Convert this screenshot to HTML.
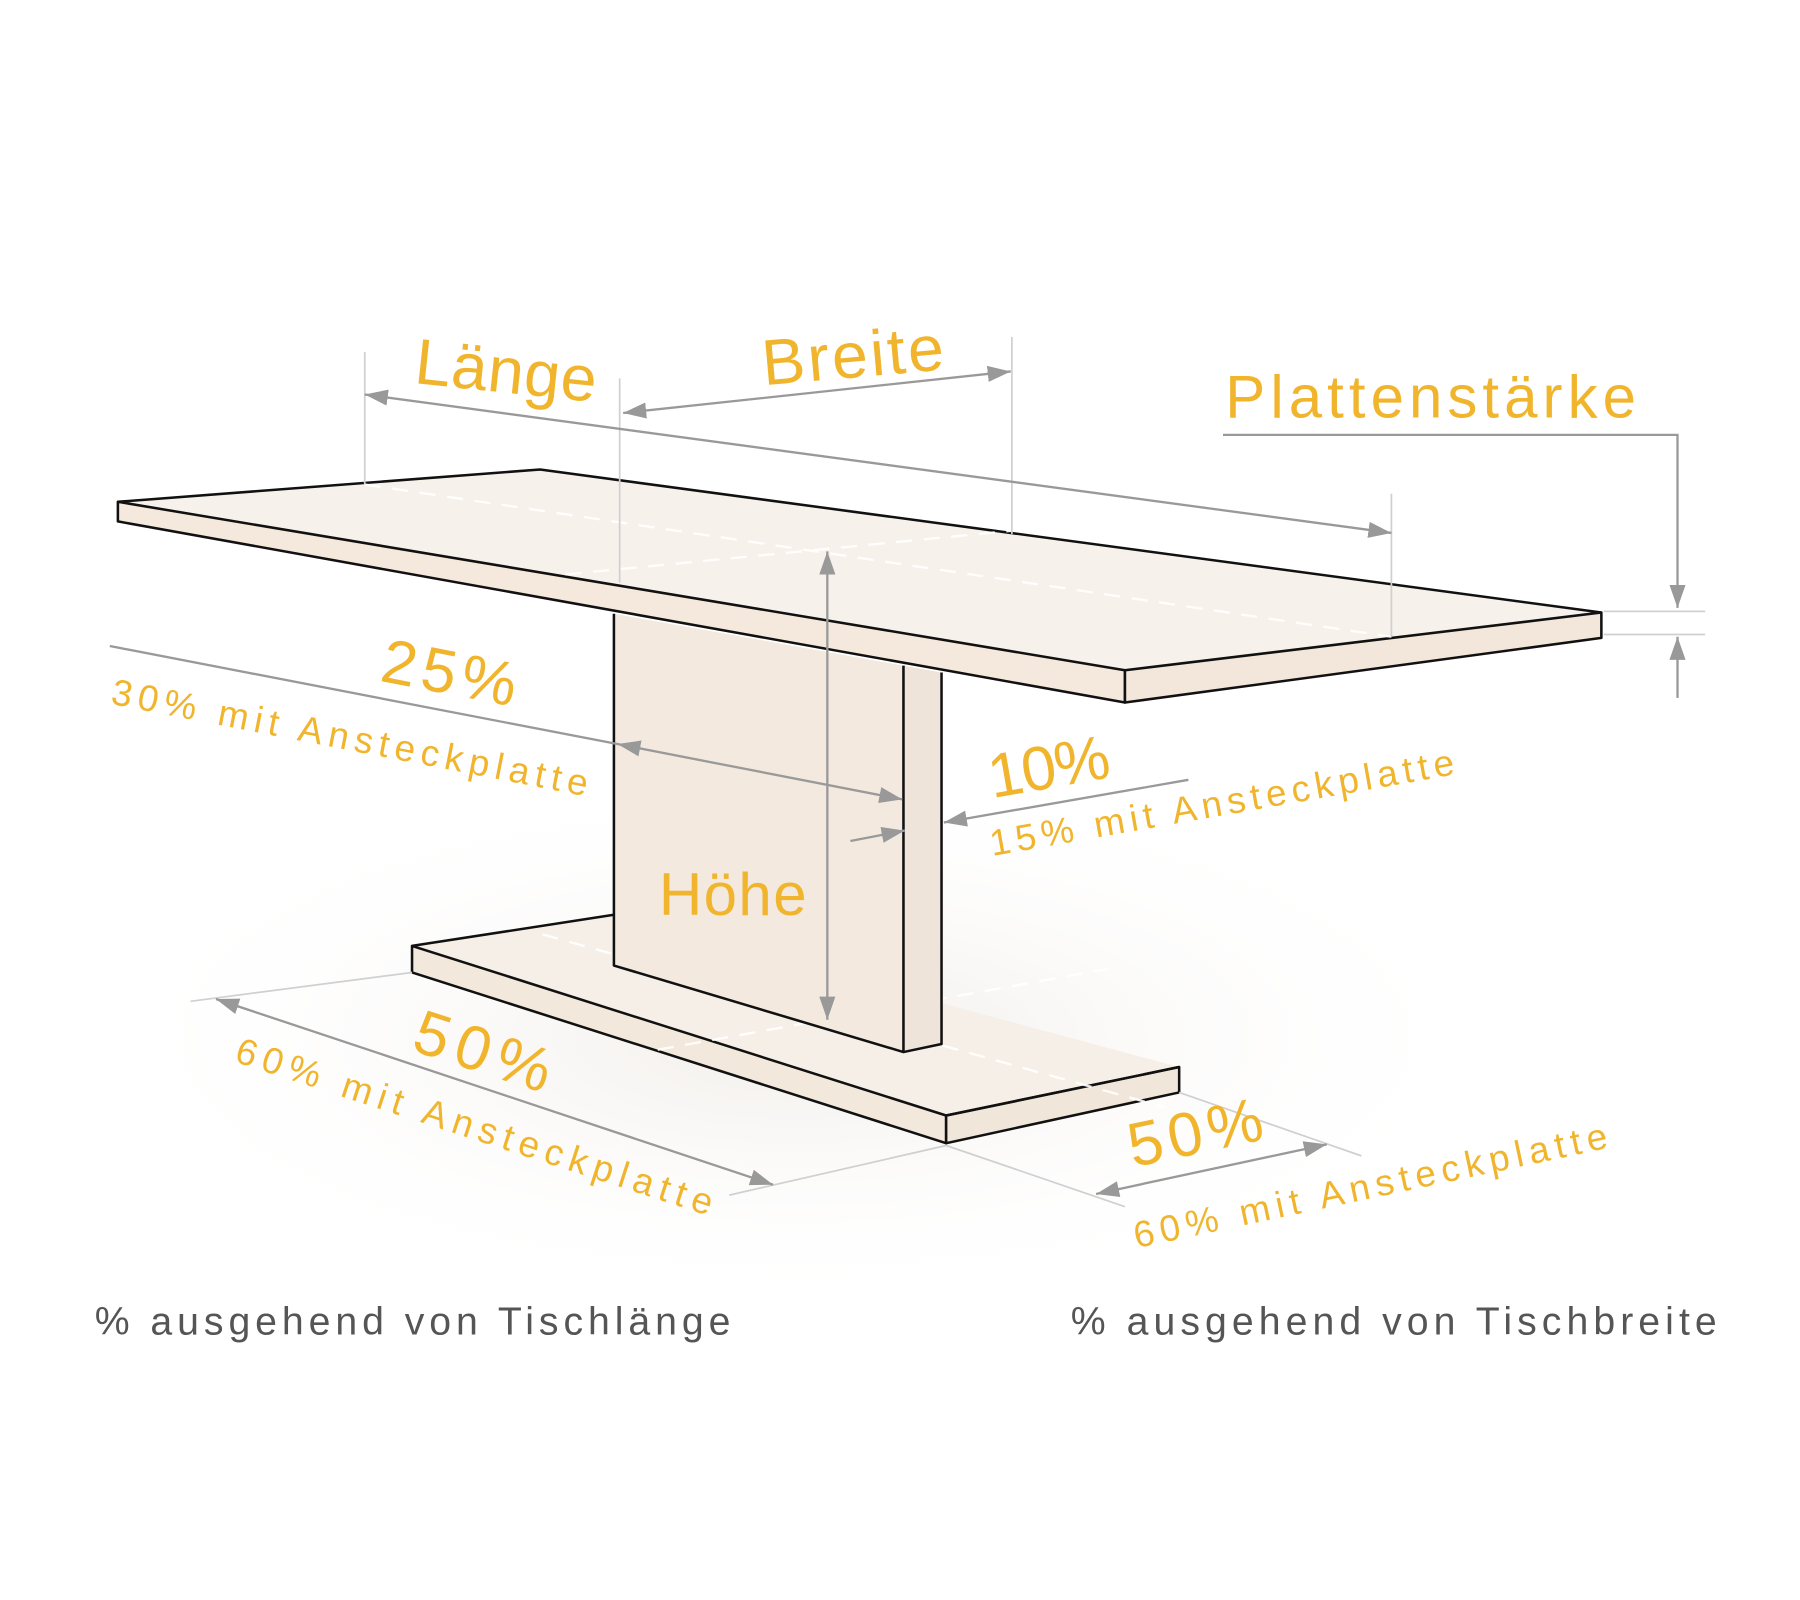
<!DOCTYPE html>
<html><head><meta charset="utf-8"><style>
html,body{margin:0;padding:0;background:#fff;width:1800px;height:1600px;overflow:hidden}
svg{display:block}
.o{fill:#f0b52d;font-family:"Liberation Sans",sans-serif}
.g{fill:#555;font-family:"Liberation Sans",sans-serif}
.dl{stroke:#999;stroke-width:2;fill:none}
.ex{stroke:#d0d0d0;stroke-width:1.5;fill:none}
.ed{stroke:#111;stroke-width:2.2;stroke-linejoin:round}
.da{stroke:#fff;stroke-width:2;stroke-dasharray:14 10;fill:none;opacity:.9}
</style></head><body>
<svg width="1800" height="1600" viewBox="0 0 1560 1387" xmlns="http://www.w3.org/2000/svg">
<defs>
<radialGradient id="sh" cx="0.5" cy="0.5" r="0.5"><stop offset="0" stop-color="#ece6e0" stop-opacity=".7"/><stop offset="1" stop-color="#fff" stop-opacity="0"/></radialGradient>
<marker id="m" viewBox="0 0 20 14" refX="20" refY="7" markerWidth="20" markerHeight="14" orient="auto-start-reverse" markerUnits="userSpaceOnUse"><path d="M0,0L20,7L0,14z" fill="#999"/></marker>
</defs>
<ellipse cx="690" cy="900" rx="620" ry="230" fill="url(#sh)"/>
<!-- base -->
<polygon points="357,820 532,793 1022,925 820,967" fill="#f6efe8"/>
<polygon class="ed" points="357,820 820,967 820,991 357,843" fill="#f3e8dc"/>
<polygon class="ed" points="820,967 1022,925 1022,947 820,991" fill="#f1e6da"/>
<path class="ed" d="M357,820L532,793M820,967L1022,925" fill="none"/>
<path class="da" d="M470,810L1010,960M570,910L960,840"/>
<!-- pillar -->
<polygon points="532,532 783,577 783,912 532,837" fill="#f3e9df"/>
<polygon points="783,577 816,583 816,905 783,912" fill="#eee4da"/>
<path class="ed" fill="none" d="M532,532L532,837L783,912L816,905L816,583M783,577L783,912"/>
<!-- top -->
<polygon points="102,435 468,407 1388,531 975,581" fill="#f7f1eb"/>
<polygon class="ed" points="102,435 975,581 975,609 102,452" fill="#f4e9dc"/>
<polygon class="ed" points="975,581 1388,531 1388,553 975,609" fill="#f2e7da"/>
<path class="ed" fill="none" d="M102,435L468,407L1388,531"/>
<path class="da" d="M316,420L1206,552M490,498L878,460"/>
<!-- extension lines -->
<path class="ex" d="M316,305V420M537,328V505M877,292V463M1206,428V552M1390,530H1478M1390,550H1478"/>
<path class="ex" d="M165,868L357,843M632,1036L820,993M820,993L975,1046M1022,947L1180,1002"/>
<!-- dimension lines -->
<path class="dl" d="M316,342L1206,462" marker-start="url(#m)" marker-end="url(#m)"/>
<path class="dl" d="M540,358L876,322" marker-start="url(#m)" marker-end="url(#m)"/>
<path class="dl" d="M1060,377H1454V527" marker-end="url(#m)"/>
<path class="dl" d="M1454,605V552" marker-end="url(#m)"/>
<path class="dl" d="M717,478V884" marker-start="url(#m)" marker-end="url(#m)"/>
<path class="dl" d="M95,560L535,645"/>
<path class="dl" d="M535,645L782,693" marker-start="url(#m)" marker-end="url(#m)"/>
<path class="dl" d="M1030,676L818,713" marker-end="url(#m)"/>
<path class="dl" d="M737,729L784,720" marker-end="url(#m)"/>
<path class="dl" d="M187,866L670,1027" marker-start="url(#m)" marker-end="url(#m)"/>
<path class="dl" d="M950,1035L1150,992" marker-start="url(#m)" marker-end="url(#m)"/>
<!-- labels -->
<text class="o" font-size="56" textLength="158" transform="translate(358,332) rotate(6)">Länge</text>
<text class="o" font-size="56" textLength="158" transform="translate(662,334) rotate(-5)">Breite</text>
<text class="o" font-size="52" textLength="356" x="1062" y="362">Plattenstärke</text>
<text class="o" font-size="54" textLength="118" transform="translate(328,590) rotate(11)">25%</text>
<text class="o" font-size="32" textLength="420" transform="translate(95,610) rotate(11)">30% mit Ansteckplatte</text>
<text class="o" font-size="54" textLength="106" transform="translate(860,692) rotate(-10)">10%</text>
<text class="o" font-size="32" textLength="408" transform="translate(860,742) rotate(-10)">15% mit Ansteckplatte</text>
<text class="o" font-size="52" textLength="128" x="571" y="793">Höhe</text>
<text class="o" font-size="54" textLength="122" transform="translate(355,910) rotate(18)">50%</text>
<text class="o" font-size="32" textLength="433" transform="translate(202,920) rotate(18)">60% mit Ansteckplatte</text>
<text class="o" font-size="54" textLength="118" transform="translate(982,1012) rotate(-12)">50%</text>
<text class="o" font-size="32" textLength="419" transform="translate(985,1082) rotate(-12)">60% mit Ansteckplatte</text>
<text class="g" font-size="34" textLength="551" x="82" y="1157">% ausgehend von Tischlänge</text>
<text class="g" font-size="34" textLength="560" x="928" y="1157">% ausgehend von Tischbreite</text>
</svg>
</body></html>
